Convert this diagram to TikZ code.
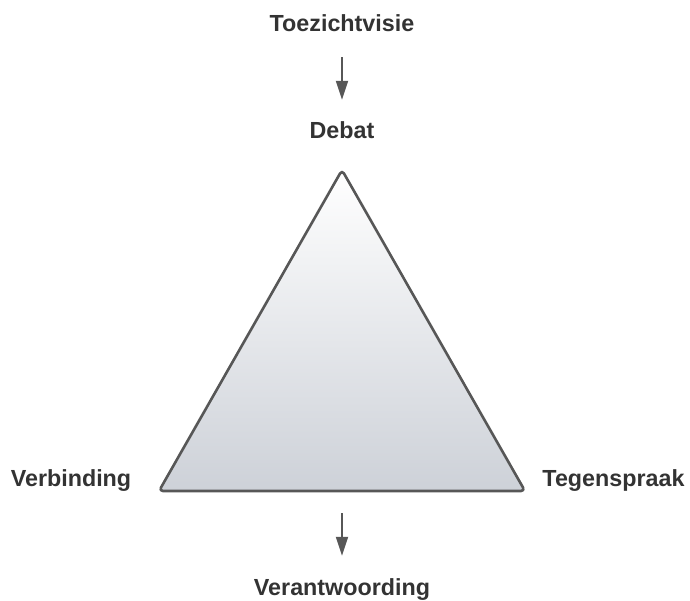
\documentclass[tikz,border=0pt]{standalone}
\usepackage{fontspec}
\setmainfont{Liberation Sans}
\usetikzlibrary{arrows.meta}
\definecolor{labelgray}{HTML}{333333}
\definecolor{edgegray}{HTML}{575757}
\definecolor{shadebot}{HTML}{CDD1D8}
\tikzset{
  lbl/.style={font=\fontsize{23.3}{26}\selectfont\bfseries, text=labelgray,
              inner sep=0pt, text height=17pt, text depth=5pt, anchor=base},
  flow/.style={draw=edgegray, line width=2pt,
               -{Triangle[length=19pt,width=12pt]}},
  tri/.style={draw=edgegray, line width=2.6pt, rounded corners=4pt,
              line join=round, top color=white, bottom color=shadebot}
}
\begin{document}
\begin{tikzpicture}[x=1pt,y=-1pt]
  \useasboundingbox (0,0) rectangle (690,600);

  % corners of the triangle
  \coordinate (apex) at (342,170);
  \coordinate (bl) at (159,491);
  \coordinate (br) at (525,491);
  \coordinate (basemid) at (342,491);

  \shadedraw[tri] (apex) -- (br) -- (bl) -- cycle;

  % labels
  \node[lbl] (toe) at (342,31) {Toezichtvisie};
  \node[lbl] (debat) at (342,138) {Debat};
  \node[lbl] (verb) at (71,486) {Verbinding};
  \node[lbl] (tegen) at (613.5,486) {Tegenspraak};
  \node[lbl] (verant) at (342,595) {Verantwoording};

  % arrows
  \draw[flow, shorten <=21pt, shorten >=21pt] (toe.south) -- (debat.north);
  \draw[flow, shorten <=22pt, shorten >=22pt] (basemid) -- (verant.north);
\end{tikzpicture}
\end{document}
